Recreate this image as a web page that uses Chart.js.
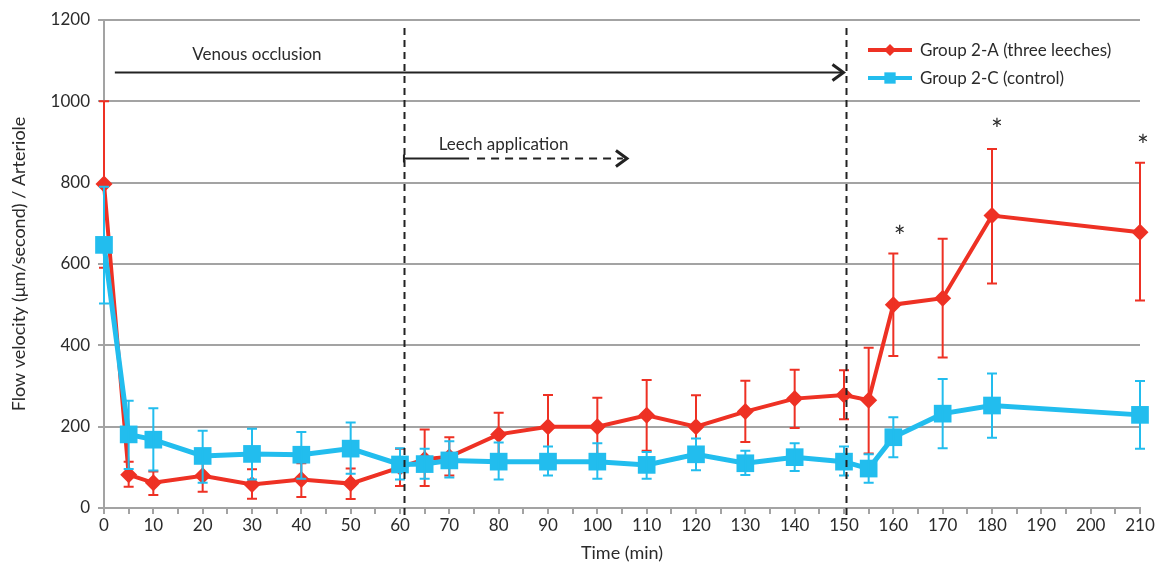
<!DOCTYPE html>
<html>
<head>
<meta charset="utf-8">
<script src="https://cdn.jsdelivr.net/npm/chart.js@4.4.1/dist/chart.umd.min.js"></script>
<style>
  html, body { margin: 0; padding: 0; background: #fff; }
  #wrap { width: 1161px; height: 568px; }
</style>
</head>
<body>
<div id="wrap"><canvas id="flowChart" width="1161" height="568"></canvas></div>
<script>
// time points (min)
const times = [0, 5, 10, 20, 30, 40, 50, 60, 65, 70, 80, 90, 100, 110, 120, 130, 140, 150, 155, 160, 170, 180, 210];

// Group 2-A (three leeches)
const groupA = [797, 82, 62, 79, 58, 70, 60, 100, 120, 126, 181, 200, 200, 228, 200, 237, 269, 278, 265, 500, 516, 719, 678];
const groupAUpper = [1000, 114, 90, 118, 95, 110, 97, 146, 193, 174, 234, 278, 271, 315, 277, 313, 340, 339, 394, 626, 662, 883, 849];
const groupALower = [591, 52, 32, 40, 23, 27, 22, 54, 54, 80, 125, 120, 127, 141, 120, 162, 197, 218, 134, 374, 370, 552, 510];

// Group 2-C (control)
const groupC = [647, 181, 168, 128, 133, 131, 146, 107, 108, 117, 114, 114, 114, 106, 132, 110, 125, 114, 97, 174, 232, 252, 229];
const groupCUpper = [790, 264, 245, 190, 195, 187, 210, 147, 146, 164, 161, 151, 159, 138, 171, 141, 159, 151, 132, 223, 317, 331, 312];
const groupCLower = [503, 96, 92, 62, 70, 72, 84, 70, 72, 75, 70, 80, 72, 72, 93, 81, 91, 80, 62, 125, 147, 173, 146];

const seriesLabels = ['Group 2-A (three leeches)', 'Group 2-C (control)'];

// annotations
const phaseLines = [60.8, 150.5];
const venousArrow = [2.2, 150.3, 1072];        // from, to, level
const venousLabel = ['Venous occlusion', 31, 1114];
const leechArrow = [60.8, 74, 106, 861];        // start, end of solid part, head, level
const leechLabel = ['Leech application', 81, 893];
const starTimes = [161.3, 181, 210.6];
const starLevels = [679, 942, 902];

const RED = '#ee3124';
const BLUE = '#22bdee';
const GRID = '#a3a3a3';
const TEXT = '#2b2b2b';
const FONT = 'Lato, "Open Sans", sans-serif';

function toPoints(values) {
  return times.map(function (t, i) { return { x: t, y: values[i] }; });
}

const errorBars = {
  id: 'errorBars',
  afterDatasetDraw(chart, args) {
    const ds = chart.data.datasets[args.index];
    if (!ds.errUpper) return;
    const x = chart.scales.x, y = chart.scales.y;
    const ctx = chart.ctx;
    ctx.save();
    ctx.strokeStyle = ds.borderColor;
    ctx.lineWidth = 2;
    ds.data.forEach(function (p, i) {
      const px = x.getPixelForValue(p.x);
      const top = y.getPixelForValue(ds.errUpper[i]);
      const bot = y.getPixelForValue(ds.errLower[i]);
      ctx.beginPath();
      ctx.moveTo(px, top); ctx.lineTo(px, bot);
      ctx.moveTo(px - 5, top); ctx.lineTo(px + 5, top);
      ctx.moveTo(px - 5, bot); ctx.lineTo(px + 5, bot);
      ctx.stroke();
    });
    ctx.restore();
  }
};

function chevron(ctx, x, y, len, half) {
  ctx.beginPath();
  ctx.moveTo(x - len, y - half);
  ctx.lineTo(x, y);
  ctx.lineTo(x - len, y + half);
  ctx.stroke();
}

const annotations = {
  id: 'annotations',
  afterDraw(chart) {
    const ctx = chart.ctx;
    const x = chart.scales.x, y = chart.scales.y;
    const area = chart.chartArea;
    ctx.save();

    // vertical dashed phase lines
    ctx.strokeStyle = '#222';
    ctx.lineWidth = 2;
    ctx.setLineDash([7, 5]);
    phaseLines.forEach(function (t) {
      const px = Math.round(x.getPixelForValue(t)) + 0.5;
      ctx.beginPath();
      ctx.moveTo(px, area.top + 8);
      ctx.lineTo(px, area.bottom + 7);
      ctx.stroke();
    });
    ctx.setLineDash([]);

    // venous occlusion arrow
    const vy = Math.round(y.getPixelForValue(venousArrow[2])) + 0.5;
    const vx1 = x.getPixelForValue(venousArrow[0]);
    const vx2 = x.getPixelForValue(venousArrow[1]);
    ctx.lineWidth = 2;
    ctx.beginPath();
    ctx.moveTo(vx1, vy); ctx.lineTo(vx2 - 2, vy);
    ctx.stroke();
    ctx.lineWidth = 3;
    chevron(ctx, vx2 - 2, vy, 11, 8);

    // leech application arrow
    const ly = Math.round(y.getPixelForValue(leechArrow[3])) + 0.5;
    const lx0 = x.getPixelForValue(leechArrow[0]);
    const lx1 = x.getPixelForValue(leechArrow[1]);
    const lx2 = x.getPixelForValue(leechArrow[2]);
    ctx.lineWidth = 2;
    ctx.beginPath();
    ctx.moveTo(lx0, ly - 4); ctx.lineTo(lx0, ly + 4);
    ctx.moveTo(lx0, ly); ctx.lineTo(lx1, ly);
    ctx.stroke();
    ctx.setLineDash([8, 6]);
    ctx.beginPath();
    ctx.moveTo(lx1 + 8, ly); ctx.lineTo(lx2 - 4, ly);
    ctx.stroke();
    ctx.setLineDash([]);
    ctx.lineWidth = 3;
    chevron(ctx, lx2, ly, 11, 8);

    // labels
    ctx.fillStyle = TEXT;
    ctx.font = '17px ' + FONT;
    ctx.textAlign = 'center';
    ctx.textBaseline = 'middle';
    ctx.fillText(venousLabel[0], x.getPixelForValue(venousLabel[1]), y.getPixelForValue(venousLabel[2]));
    ctx.fillText(leechLabel[0], x.getPixelForValue(leechLabel[1]), y.getPixelForValue(leechLabel[2]));

    // significance asterisks
    ctx.font = '28px ' + FONT;
    starTimes.forEach(function (t, i) {
      ctx.fillText('*', x.getPixelForValue(t), y.getPixelForValue(starLevels[i]) + 6);
    });

    // legend
    const lx = area.right - 272;
    const colors = [RED, BLUE];
    const styles = ['rectRot', 'rect'];
    ctx.font = '17px ' + FONT;
    ctx.textAlign = 'left';
    seriesLabels.forEach(function (label, i) {
      const ry = area.top + 30 + i * 28;
      ctx.strokeStyle = colors[i];
      ctx.fillStyle = colors[i];
      ctx.lineWidth = 4;
      ctx.beginPath();
      ctx.moveTo(lx, ry); ctx.lineTo(lx + 44, ry);
      ctx.stroke();
      Chart.helpers.drawPoint(ctx, { pointStyle: styles[i], radius: i === 0 ? 6 : 8, borderWidth: 0 }, lx + 22, ry);
      ctx.fillStyle = TEXT;
      ctx.fillText(label, lx + 52, ry + 1);
    });

    ctx.restore();
  }
};

const ctx = document.getElementById('flowChart');

new Chart(ctx, {
  type: 'line',
  data: {
    datasets: [
      {
        label: seriesLabels[0],
        data: toPoints(groupA),
        errUpper: groupAUpper,
        errLower: groupALower,
        borderColor: RED,
        backgroundColor: RED,
        borderWidth: 4,
        pointStyle: 'rectRot',
        pointRadius: 8.5,
        pointBorderWidth: 0,
        clip: false,
        order: 2
      },
      {
        label: seriesLabels[1],
        data: toPoints(groupC),
        errUpper: groupCUpper,
        errLower: groupCLower,
        borderColor: BLUE,
        backgroundColor: BLUE,
        borderWidth: 5,
        pointStyle: 'rect',
        pointRadius: 12.5,
        pointBorderWidth: 0,
        clip: false,
        order: 1
      }
    ]
  },
  options: {
    responsive: false,
    animation: false,
    devicePixelRatio: 1,
    layout: { padding: { top: 20, right: 21, left: 4, bottom: 0 } },
    plugins: {
      legend: { display: false },
      tooltip: { enabled: false }
    },
    scales: {
      x: {
        type: 'linear',
        min: 0,
        max: 210,
        afterFit: function (scale) { scale.height = 60; },
        ticks: {
          stepSize: 5,
          autoSkip: false,
          maxRotation: 0,
          color: TEXT,
          font: { family: FONT, size: 17 },
          padding: 1,
          callback: function (v) { return v % 10 === 0 ? String(v) : ''; }
        },
        grid: { drawOnChartArea: false, color: GRID, lineWidth: 2, tickLength: 6 },
        border: { color: GRID, width: 2 },
        title: {
          display: true,
          text: 'Time (min)',
          color: TEXT,
          font: { family: FONT, size: 18 },
          padding: { top: 4 }
        }
      },
      y: {
        min: 0,
        max: 1200,
        afterFit: function (scale) { scale.width = 100; },
        ticks: {
          stepSize: 200,
          color: TEXT,
          font: { family: FONT, size: 17 },
          padding: 8,
          callback: function (v) { return String(v); }
        },
        grid: { color: GRID, lineWidth: 2, tickLength: 6 },
        border: { color: GRID, width: 2 },
        title: {
          display: true,
          text: 'Flow velocity (μm/second) / Arteriole',
          color: TEXT,
          font: { family: FONT, size: 18 },
          padding: { bottom: 0 }
        }
      }
    }
  },
  plugins: [errorBars, annotations]
});
</script>
</body>
</html>
